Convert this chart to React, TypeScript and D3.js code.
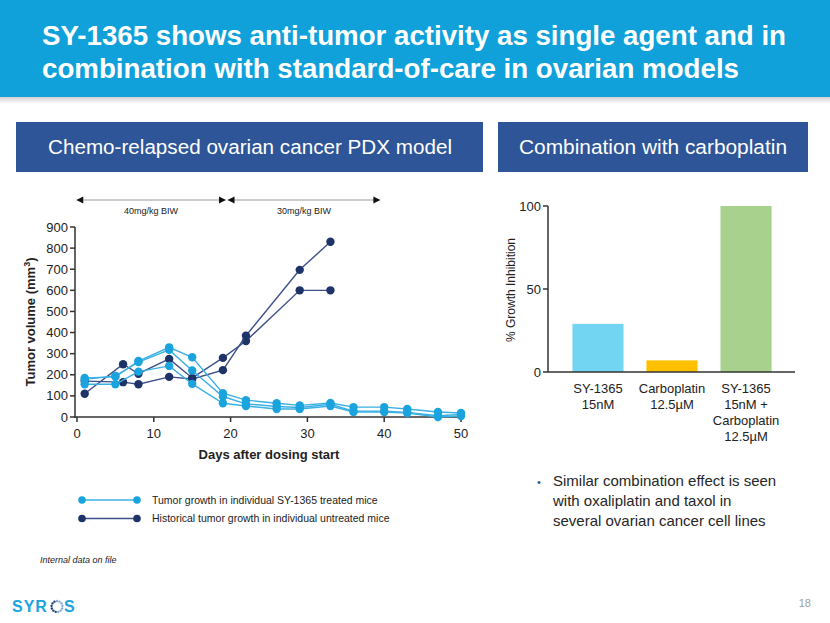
import React from "react";
import * as d3 from "d3";

// ---------- Data ----------
const treatedDays = [1, 5, 8, 12, 15, 19, 22, 26, 29, 33, 36, 40, 43, 47, 50];
const treatedMouse1 = [185, 190, 265, 330, 283, 113, 80, 65, 55, 66, 47, 47, 38, 24, 19];
const treatedMouse2 = [155, 155, 215, 242, 157, 65, 52, 38, 38, 52, 24, 24, 19, 0, 5];
const treatedMouse3 = [178, 195, 260, 318, 220, 97, 62, 50, 45, 60, 28, 28, 22, 6, 12];

const untreatedDays = [1, 6, 8, 12, 15, 19, 22, 29, 33];
const untreatedMouse1 = [110, 250, 205, 275, 185, 280, 360, 600, 600];
const untreatedMouse2 = [170, 165, 155, 190, 180, 222, 385, 697, 830];

const yTicksTumor = [0, 100, 200, 300, 400, 500, 600, 700, 800, 900];
const xTicksDays = [0, 10, 20, 30, 40, 50];

const dosingPeriods = [
  { start: -0.1, end: 19.4, label: "40mg/kg BIW" },
  { start: 19.6, end: 39.5, label: "30mg/kg BIW" },
];

const legendLabels = [
  "Tumor growth in individual SY-1365 treated mice",
  "Historical tumor growth in individual untreated mice",
];

const barCategories = [
  ["SY-1365", "15nM"],
  ["Carboplatin", "12.5\u00b5M"],
  ["SY-1365", "15nM +", "Carboplatin", "12.5\u00b5M"],
];
const barValues = [29, 7, 100];
const barColors = ["#72D5F2", "#FFC000", "#A7D18C"];
const barTicks = [0, 50, 100];

const titleLines = [
  "SY-1365 shows anti-tumor activity as single agent and in",
  "combination with standard-of-care in ovarian models",
];
const bulletLines = [
  "Similar combination effect is seen",
  "with oxaliplatin and taxol in",
  "several ovarian cancer cell lines",
];

// ---------- Styles ----------
const LIGHT = "#1BA3DE";
const LIGHT_LINE = "#3BB0E4";
const DARK = "#1E3468";
const DARK_LINE = "#3C5089";
const FONT = "'Liberation Sans', Arial, sans-serif";
const NARROW = "'Liberation Sans Narrow', 'Arial Narrow', 'Liberation Sans', sans-serif";

export default function App() {
  // line chart scales
  const x = d3.scaleLinear().domain([0, 50]).range([77, 461]);
  const y = d3.scaleLinear().domain([0, 900]).range([417, 227]);

  const line = d3
    .line<[number, number]>()
    .x((d) => x(d[0]))
    .y((d) => y(d[1]));

  const treated = [treatedMouse1, treatedMouse2, treatedMouse3].map((vals) =>
    treatedDays.map((d, i) => [d, vals[i]] as [number, number])
  );
  const untreated = [untreatedMouse1, untreatedMouse2].map((vals) =>
    untreatedDays.map((d, i) => [d, vals[i]] as [number, number])
  );

  // bar chart scales
  const bx = d3.scaleBand<number>().domain([0, 1, 2]).range([548, 796]).paddingInner(0.31).paddingOuter(0.33);
  const by = d3.scaleLinear().domain([0, 100]).range([372, 206]);

  // logo dots
  const logoDots = d3.range(13).map((i) => {
    const a = (i / 13) * Math.PI * 2 - Math.PI / 2;
    return { cx: 57 + Math.cos(a) * 5.5, cy: 606.5 + Math.sin(a) * 5.5, i };
  });

  return (
    <svg
      width={830}
      height={623}
      style={{ position: "absolute", left: 0, top: 0, background: "#fff" }}
      fontFamily={FONT}
    >
      <defs>
        <linearGradient id="shadow" x1="0" x2="0" y1="0" y2="1">
          <stop offset="0%" stopColor="#000" stopOpacity={0.18} />
          <stop offset="100%" stopColor="#000" stopOpacity={0} />
        </linearGradient>
      </defs>
      <rect x={0} y={0} width={830} height={623} fill="#fff" />

      {/* Header */}
      <rect x={0} y={97} width={830} height={7} fill="url(#shadow)" />
      <rect x={0} y={0} width={830} height={97} fill="#10A1DB" />
      {titleLines.map((t, i) => (
        <text
          key={i}
          x={42}
          y={45 + i * 33}
          fill="#fff"
          fontFamily={NARROW}
          fontWeight="bold"
          fontSize={28}
          textLength={i === 0 ? 744 : 697}
          lengthAdjust="spacingAndGlyphs"
        >
          {t}
        </text>
      ))}

      {/* Subheaders */}
      <rect x={16} y={122} width={467} height={50} fill="#2E5597" />
      <text x={48} y={154} fill="#fff" fontSize={20} fontFamily={NARROW} textLength={404} lengthAdjust="spacingAndGlyphs">
        Chemo-relapsed ovarian cancer PDX model
      </text>
      <rect x={498} y={122} width={310} height={50} fill="#2E5597" />
      <text x={519} y={154} fill="#fff" fontSize={20} fontFamily={NARROW} textLength={268} lengthAdjust="spacingAndGlyphs">
        Combination with carboplatin
      </text>

      {/* Dosing arrows */}
      {dosingPeriods.map((p, i) => {
        const x0 = x(p.start);
        const x1 = x(p.end);
        return (
          <g key={i}>
            <line x1={x0 + 5} x2={x1 - 5} y1={200} y2={200} stroke="#9a9a9a" strokeWidth={1.2} />
            <path d={`M${x0},200 L${x0 + 7},196.5 L${x0 + 7},203.5 Z`} fill="#111" />
            <path d={`M${x1},200 L${x1 - 7},196.5 L${x1 - 7},203.5 Z`} fill="#111" />
            <text x={(x0 + x1) / 2} y={214} fontSize={9} textAnchor="middle" fill="#222">
              {p.label}
            </text>
          </g>
        );
      })}

      {/* Line chart axes */}
      <g stroke="#333" strokeWidth={1.5}>
        <line x1={75} x2={75} y1={y(900)} y2={418} />
        <line x1={75} x2={462} y1={417} y2={417} />
        {yTicksTumor.map((t) => (
          <line key={t} x1={70} x2={75} y1={y(t)} y2={y(t)} />
        ))}
        {xTicksDays.map((t) => (
          <line key={t} x1={x(t)} x2={x(t)} y1={417} y2={422} />
        ))}
      </g>
      {yTicksTumor.map((t) => (
        <text key={t} x={68} y={y(t) + 4.5} fontSize={13} textAnchor="end" fill="#222">
          {t}
        </text>
      ))}
      {xTicksDays.map((t) => (
        <text key={t} x={x(t)} y={438} fontSize={13} textAnchor="middle" fill="#222">
          {t}
        </text>
      ))}
      <text x={269} y={459} fontSize={13} fontWeight="bold" textAnchor="middle" fill="#222">
        Days after dosing start
      </text>
      <text transform="translate(35,322) rotate(-90)" fontSize={13} fontWeight="bold" textAnchor="middle" fill="#222">
        Tumor volume (mm<tspan dy={-5} fontSize={9}>3</tspan>
        <tspan dy={5}>)</tspan>
      </text>

      {/* Series */}
      {untreated.map((pts, i) => (
        <g key={"u" + i}>
          <path d={line(pts) || ""} fill="none" stroke={DARK_LINE} strokeWidth={1.4} />
          {pts.map((p, j) => (
            <circle key={j} cx={x(p[0])} cy={y(p[1])} r={4.2} fill={DARK} />
          ))}
        </g>
      ))}
      {treated.map((pts, i) => (
        <g key={"t" + i}>
          <path d={line(pts) || ""} fill="none" stroke={LIGHT_LINE} strokeWidth={1.4} />
          {pts.map((p, j) => (
            <circle key={j} cx={x(p[0])} cy={y(p[1])} r={4.2} fill={LIGHT} />
          ))}
        </g>
      ))}

      {/* Legend */}
      {legendLabels.map((lab, i) => {
        const ly = 500 + i * 18.5;
        const c = i === 0 ? LIGHT : DARK;
        const lc = i === 0 ? LIGHT_LINE : DARK_LINE;
        return (
          <g key={i}>
            <line x1={82} x2={137} y1={ly} y2={ly} stroke={lc} strokeWidth={1.4} />
            <circle cx={82} cy={ly} r={3.8} fill={c} />
            <circle cx={137} cy={ly} r={3.8} fill={c} />
            <text x={152} y={ly + 3.8} fontSize={10.5} fill="#222">
              {lab}
            </text>
          </g>
        );
      })}
      <text x={40} y={563} fontSize={9} fontStyle="italic" fill="#222">
        Internal data on file
      </text>

      {/* Bar chart */}
      {barValues.map((v, i) => (
        <rect key={i} x={bx(i)} y={by(v)} width={bx.bandwidth()} height={by(0) - by(v)} fill={barColors[i]} />
      ))}
      <g stroke="#333" strokeWidth={1.5}>
        <line x1={548} x2={548} y1={by(100)} y2={by(0)} />
        <line x1={548} x2={795} y1={by(0)} y2={by(0)} />
        {barTicks.map((t) => (
          <line key={t} x1={543} x2={548} y1={by(t)} y2={by(t)} />
        ))}
      </g>
      {barTicks.map((t) => (
        <text key={t} x={541} y={by(t) + 4.5} fontSize={13} textAnchor="end" fill="#222">
          {t}
        </text>
      ))}
      <text transform="translate(515,290) rotate(-90)" fontSize={12} textAnchor="middle" fill="#222">
        % Growth Inhibition
      </text>
      {barCategories.map((lines, i) => (
        <text key={i} fontSize={13} textAnchor="middle" fill="#222">
          {lines.map((l, j) => (
            <tspan key={j} x={bx(i)! + bx.bandwidth() / 2} y={393 + j * 16}>
              {l}
            </tspan>
          ))}
        </text>
      ))}

      {/* Bullet */}
      <text x={537} y={486} fontSize={11} fill="#2E5597">
        •
      </text>
      {bulletLines.map((l, i) => (
        <text key={i} x={553} y={486 + i * 20} fontSize={15} fill="#262626">
          {l}
        </text>
      ))}

      {/* Page number */}
      <text x={811} y={607} fontSize={11} textAnchor="end" fill="#a0a0a0">
        18
      </text>

      {/* Logo */}
      <text x={12} y={612} fontSize={16} fontWeight="bold" fill="#1BA3DE" letterSpacing={1}>
        SYR
      </text>
      {logoDots.map((d) => (
        <circle key={d.i} cx={d.cx} cy={d.cy} r={1.2} fill={d.i < 7 ? "#7FA9D6" : "#1E3C7A"} />
      ))}
      <text x={64} y={612} fontSize={16} fontWeight="bold" fill="#1BA3DE">
        S
      </text>
    </svg>
  );
}
